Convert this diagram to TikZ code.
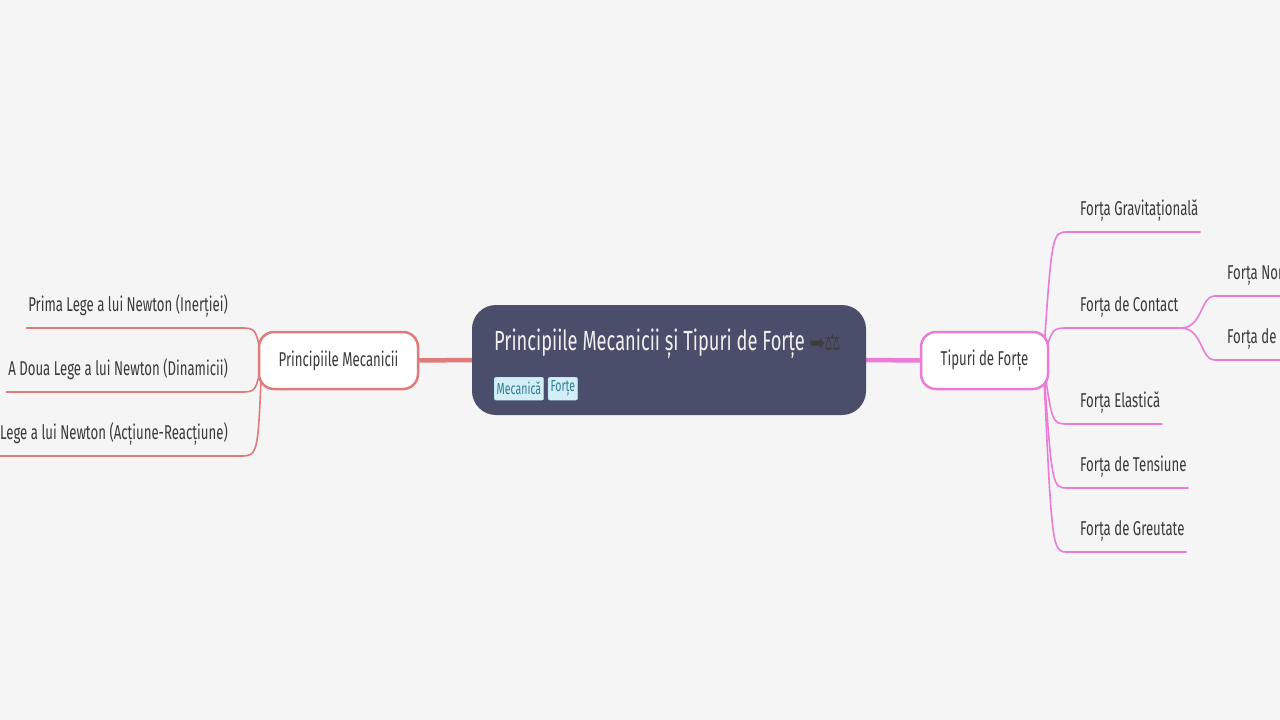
\documentclass[tikz,border=0pt]{standalone}
\usepackage{fontspec}
\setmainfont{Fira Sans}[FakeStretch=0.66]
\newfontfamily\symfont{DejaVu Sans}[FakeStretch=0.85]
\usetikzlibrary{positioning, backgrounds}

\definecolor{paper}{HTML}{F5F5F5}
\definecolor{topicfill}{HTML}{4B4E6A}
\definecolor{salmon}{HTML}{E07B7B}
\definecolor{orchid}{HTML}{EB7CD5}
\definecolor{inkgray}{HTML}{3A3A3A}
\definecolor{icongray}{HTML}{3C3C3C}
\definecolor{tagfill}{HTML}{D3EEF6}
\definecolor{tagline}{HTML}{A9D9E8}
\definecolor{tagtext}{HTML}{2E7D94}
\pagecolor{paper}

\begin{document}
\begin{tikzpicture}[
    x=1pt, y=-1pt,
    topic/.style={rectangle, fill=topicfill, rounded corners=24pt, minimum width=394pt, minimum height=110pt},
    title/.style={inner sep=0pt, text=white!94!black, font=\fontsize{27.7}{33}\selectfont},
    tag/.style={rectangle, draw=tagline, fill=tagfill, rounded corners=2pt, inner xsep=2.5pt, minimum height=23pt, text=tagtext, font=\fontsize{16}{19}\selectfont},
    branch/.style={rectangle, fill=white, line width=2.5pt, rounded corners=15pt, minimum height=57pt, text=inkgray, font=\fontsize{20}{24}\selectfont},
    leaf/.style={inner sep=0pt, text height=16pt, text depth=16.5pt, text=inkgray, font=\fontsize{20}{24}\selectfont},
    llink/.style={draw=salmon, line width=1.6pt},
    rlink/.style={draw=orchid, line width=1.6pt}
]
\useasboundingbox (0,0) rectangle (1280,720);
% Central topic
\node[topic] (centre) at (669,360) {};
\node[title, anchor=base west] (title) at (494,350) {Principiile Mecanicii și Tipuri de Forțe\,{\symfont\color{icongray}\fontsize{22}{26}\selectfont ➡\hspace{-1pt}⚖}};
\node[tag, anchor=north west] (tagmec) at (494,377) {Mecanică};
\node[tag, right=4pt of tagmec] (tagfor) {Forțe};
% Main branches
\node[branch, draw=salmon, minimum width=159pt] (pm) at (338.5,360.5) {Principiile Mecanicii};
\node[branch, draw=orchid, minimum width=127pt] (tf) at (984.5,360.5) {Tipuri de Forțe};
% Left leaves
\node[leaf, anchor=south east] (p1) at (228,328) {Prima Lege a lui Newton (Inerției)};
\node[leaf, anchor=south east] (p2) at (228,392) {A Doua Lege a lui Newton (Dinamicii)};
\node[leaf, anchor=south east] (p3) at (228,456) {A Treia Lege a lui Newton (Acțiune-Reacțiune)};
% Right leaves
\node[leaf, anchor=south west] (fg) at (1080,232) {Forța Gravitațională};
\node[leaf, anchor=south west] (fc) at (1080,328) {Forța de Contact};
\node[leaf, anchor=south west] (fe) at (1080,424) {Forța Elastică};
\node[leaf, anchor=south west] (ft) at (1080,488) {Forța de Tensiune};
\node[leaf, anchor=south west] (fw) at (1080,552) {Forța de Greutate};
\node[leaf, anchor=south west] (fn) at (1227,296) {Forța Normală};
\node[leaf, anchor=south west] (ff) at (1227,360) {Forța de Frecare};
% Connectors
\begin{scope}[on background layer]
\draw[salmon, line width=4.5pt] (centre.west) -- (pm.east);
\draw[orchid, line width=4.5pt] (centre.east) -- (tf.west);
\draw[llink] ([xshift=-2pt]p1.south west) -- ([xshift=12pt]p1.south east) .. controls (256,328) .. ([xshift=4pt]pm.west);
\draw[llink] ([xshift=-2pt]p2.south west) -- ([xshift=12pt]p2.south east) .. controls (256,392) .. ([xshift=4pt]pm.west);
\draw[llink] ([xshift=-2pt]p3.south west) -- ([xshift=12pt]p3.south east) .. controls (258,456) .. ([xshift=4pt]pm.west);
\draw[rlink] ([xshift=-6pt]tf.east) .. controls (1052,232) .. ([xshift=-12pt]fg.south west) -- ([xshift=2pt]fg.south east);
\draw[rlink] ([xshift=-6pt]tf.east) .. controls (1052,328) .. ([xshift=-12pt]fc.south west) -- ([xshift=2pt]fc.south east);
\draw[rlink] ([xshift=-6pt]tf.east) .. controls (1052,424) .. ([xshift=-12pt]fe.south west) -- ([xshift=2pt]fe.south east);
\draw[rlink] ([xshift=-6pt]tf.east) .. controls (1052,488) .. ([xshift=-12pt]ft.south west) -- ([xshift=2pt]ft.south east);
\draw[rlink] ([xshift=-6pt]tf.east) .. controls (1052,552) .. ([xshift=-12pt]fw.south west) -- ([xshift=2pt]fw.south east);
\draw[rlink] ([xshift=2pt]fc.south east) .. controls (1203,328) and (1200,296) .. ([xshift=-12pt]fn.south west) -- ([xshift=60pt]fn.south east);
\draw[rlink] ([xshift=2pt]fc.south east) .. controls (1203,328) and (1200,360) .. ([xshift=-12pt]ff.south west) -- ([xshift=60pt]ff.south east);
\end{scope}
\end{tikzpicture}
\end{document}
